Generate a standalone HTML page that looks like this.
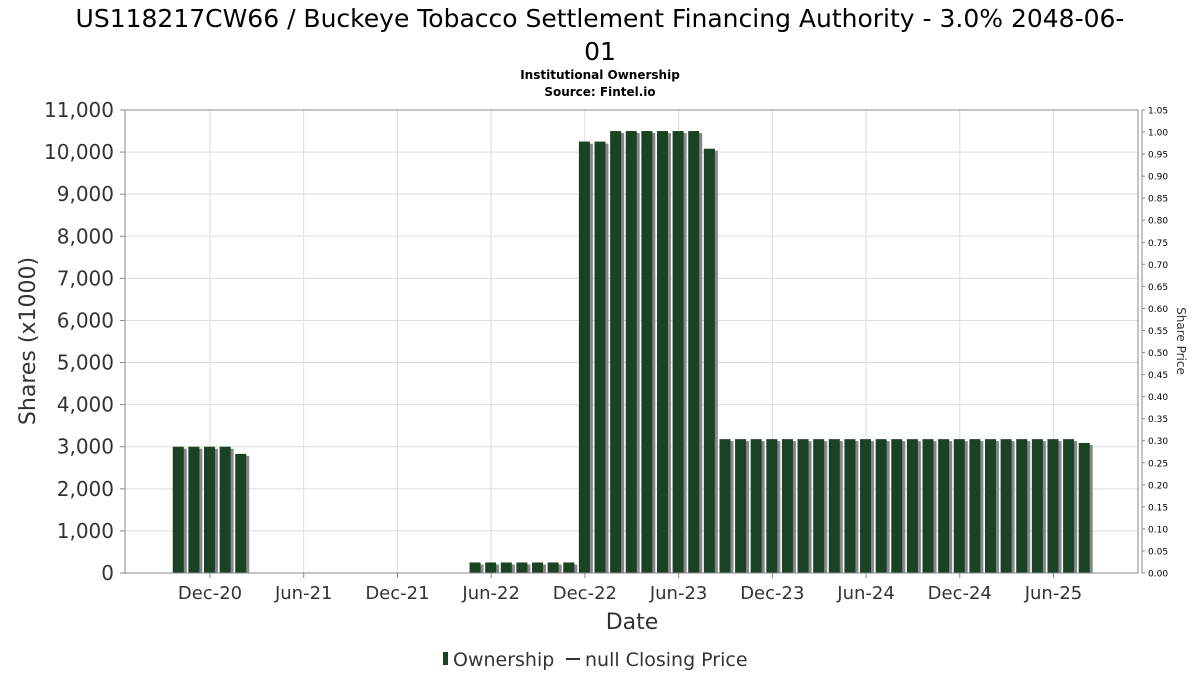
<!DOCTYPE html>
<html><head><meta charset="utf-8">
<style>
body{margin:0;background:#fff;}
svg text{font-family:"DejaVu Sans","Liberation Sans",sans-serif;}
</style></head>
<body>
<svg id="chart" width="1200" height="675" xmlns="http://www.w3.org/2000/svg">
<text x="600" y="27" font-size="25" text-anchor="middle" fill="#000">US118217CW66 / Buckeye Tobacco Settlement Financing Authority - 3.0% 2048-06-</text>
<text x="600" y="60" font-size="25" text-anchor="middle" fill="#000">01</text>
<text x="600" y="79" font-size="12" font-weight="bold" text-anchor="middle">Institutional Ownership</text>
<text x="600" y="96" font-size="12" font-weight="bold" text-anchor="middle">Source: Fintel.io</text>
<g id="grid"></g>
<g id="bars"></g>
<rect x="125" y="110" width="1013" height="463" fill="none" stroke="#888" stroke-width="1"/>
<line x1="1142" y1="110" x2="1142" y2="573" stroke="#888"/>
<g id="axes"></g>
<text x="632" y="629" font-size="22" text-anchor="middle" fill="#333">Date</text>
<text transform="translate(35,341) rotate(-90)" font-size="22" text-anchor="middle" fill="#333">Shares (x1000)</text>
<text transform="translate(1177,341) rotate(90)" font-size="12" text-anchor="middle" fill="#333">Share Price</text>
<g>
<rect x="443" y="652" width="5" height="13" fill="#1a4223"/>
<text x="453" y="666" font-size="19" fill="#333">Ownership</text>
<line x1="566" y1="659" x2="580" y2="659" stroke="#333" stroke-width="2"/>
<text x="585" y="666" font-size="19" fill="#333">null Closing Price</text>
</g>
</svg>
<script>
// Month offsets relative to Dec-20 (0 = Dec-20)
const months = [-2,-1,0,1,2, 17,18,19,20,21,22,23, 24,25,26,27,28,29,30,31,32,
 33,34,35,36,37,38,39,40,41,42,43,44,45,46,47,48,49,50,51,52,53,54,55,56];
const shares = [3000,3000,3000,3000,2830, 250,250,250,250,250,250,250,
 10250,10250,10500,10500,10500,10500,10500,10500,10080,
 3180,3180,3180,3180,3180,3180,3180,3180,3180,3180,3180,3180,3180,3180,3180,3180,3180,3180,3180,3180,3180,3180,3180,3090];
const xTickLabels = ["Dec-20","Jun-21","Dec-21","Jun-22","Dec-22","Jun-23","Dec-23","Jun-24","Dec-24","Jun-25"];
const xTickMonths = [0,6,12,18,24,30,36,42,48,54];
const yTicks = [0,1000,2000,3000,4000,5000,6000,7000,8000,9000,10000,11000];
const priceTicks = [0,0.05,0.10,0.15,0.20,0.25,0.30,0.35,0.40,0.45,0.50,0.55,0.60,0.65,0.70,0.75,0.80,0.85,0.90,0.95,1.00,1.05];

const NS="http://www.w3.org/2000/svg";
const x = m => 210 + m*15.62;
const y = v => 573 - v*(463/11000);
const yp = p => 573 - p*(463/1.05);
function mk(tag, attrs, parent){const e=document.createElementNS(NS,tag);for(const k in attrs)e.setAttribute(k,attrs[k]);parent.appendChild(e);return e;}
const grid=document.getElementById('grid'), bars=document.getElementById('bars'), axes=document.getElementById('axes');

yTicks.forEach(v=>{
  const l=mk('line',{x1:125,x2:1138,y1:y(v),y2:y(v),stroke:'#ddd'},grid);
  
  
  const t=mk('text',{x:114,y:y(v)+7,'font-size':20,'text-anchor':'end',fill:'#333'},axes);
  t.textContent=v.toLocaleString('en-US');
  
  
  mk('line',{x1:120,x2:125,y1:y(v),y2:y(v),stroke:'#888'},axes);
});
xTickMonths.forEach((m,i)=>{
  const l=mk('line',{x1:x(m),x2:x(m),y1:110,y2:573,stroke:'#ddd'},grid);
  
  
  mk('line',{x1:x(m),x2:x(m),y1:573,y2:578,stroke:'#888'},axes);
  const t=mk('text',{x:x(m),y:599,'font-size':18,'text-anchor':'middle',fill:'#333'},axes);
  t.textContent=xTickLabels[i];
  
  
});
priceTicks.forEach(p=>{
  mk('line',{x1:1142,x2:1145,y1:yp(p),y2:yp(p),stroke:'#888'},axes);
  const t=mk('text',{x:1148,y:yp(p)+3.5,'font-size':9,fill:'#000'},axes);
  t.textContent=p.toFixed(2);
  
  
});
months.forEach((m,i)=>{
  const cx=x(m)-1, top=y(shares[i]), h=573-top;
  const s=mk('rect',{x:cx-5+3,y:top+2,width:11,height:h-2,fill:'#888'},bars);
  
  
  const b=mk('rect',{x:cx-5,y:top,width:11,height:h,fill:'#1a4223'},bars);
  
  
});
</script>
</body></html>
